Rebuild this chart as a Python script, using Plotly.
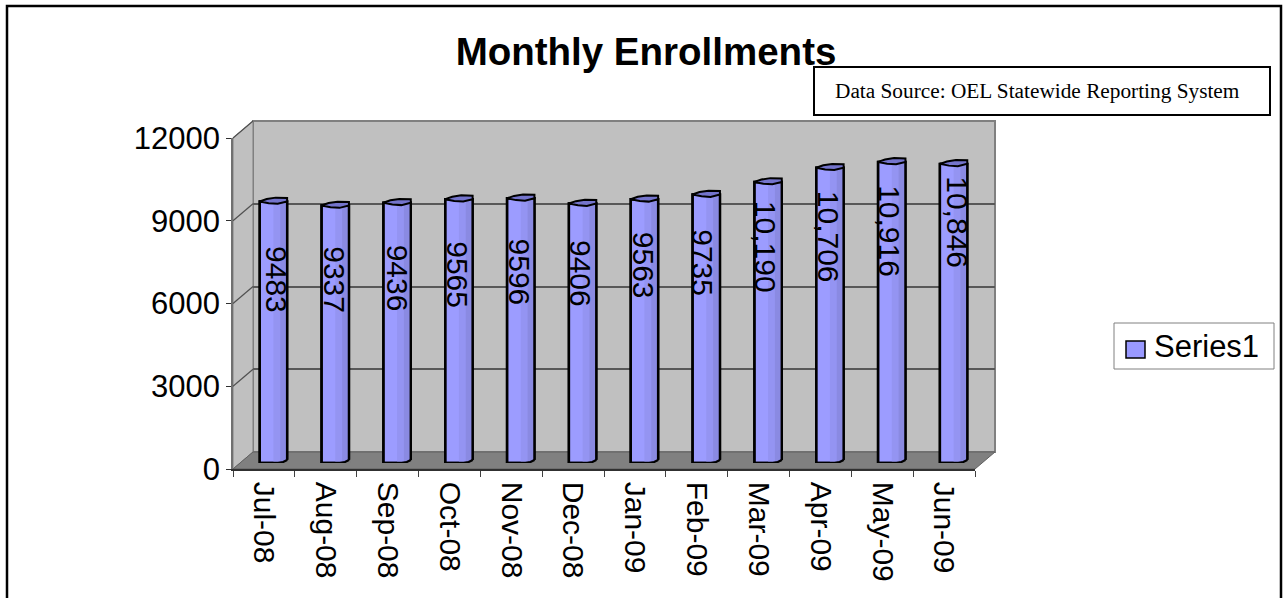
import plotly.graph_objects as go

months = ["Jul-08", "Aug-08", "Sep-08", "Oct-08", "Nov-08", "Dec-08",
          "Jan-09", "Feb-09", "Mar-09", "Apr-09", "May-09", "Jun-09"]
enrollments = [9483, 9337, 9436, 9565, 9596, 9406, 9563, 9735, 10190, 10706, 10916, 10846]
value_labels = ["9483", "9337", "9436", "9565", "9596", "9406", "9563", "9735",
                "10,190", "10,706", "10,916", "10,846"]
y_ticks = [0, 3000, 6000, 9000, 12000]
series_name = "Series1"
chart_title = "Monthly Enrollments"
source_note = "Data Source: OEL Statewide Reporting System"

# hand-placed data label nudges in the source chart (pixels from the bar top)
label_dx = [3, -1, 0, -1, -1, -2, -1, -4, -3, -2, -3, 4]
label_dy = [-78, -74, -75, -76, -74, -70, -66, -68, -65, -69, -69, -58]

W, H = 1287, 599
FONT = "Liberation Sans"
X0, X1, Y0, Y1 = 233, 975, 469, 138          # front plane of the 3-D box
DX, DY = 20, -17                             # depth of the box
BX, BY = 9.5, -6                             # bars stand half way into the depth


def px(x):
    return x / W


def py(y):
    return 1 - y / H


def poly(points):
    return "M" + " L".join(f"{px(x):.5f},{py(y):.5f}" for x, y in points) + " Z"


idx = list(range(len(months)))
ux = (len(months)) / (X1 - X0)               # category units per pixel
uy = y_ticks[-1] / (Y0 - Y1)                 # value units per pixel
HALF = 13.7 * ux

fig = go.Figure()

# back wall axes (x, y) carry the gridlines and sit lowest
fig.add_trace(go.Scatter(x=[0], y=[0], xaxis="x", yaxis="y", mode="markers",
                         marker_opacity=0, showlegend=False, hoverinfo="skip"))

# invisible trace that gives the front axis (x2, y2) its categories
fig.add_trace(go.Bar(x=months, y=[0] * len(months), xaxis="x2", yaxis="y2",
                     showlegend=False, hoverinfo="skip", marker_opacity=0))

# cylinder body on (x3, y3): base, two shaded strips, outline
fig.add_trace(go.Bar(x=idx, y=enrollments, xaxis="x3", yaxis="y3", name=series_name,
                     width=2 * HALF, marker=dict(color="#9C9CFF", line=dict(width=2.4, color="black")),
                     hoverinfo="skip", showlegend=False))
for start, colour in [(0.0, "#9494F2"), (0.5, "#8A8AE2")]:
    fig.add_trace(go.Bar(x=idx, y=enrollments, xaxis="x3", yaxis="y3", showlegend=False,
                         offset=start * HALF, width=(1 - start) * HALF,
                         marker=dict(color=colour, line=dict(width=0)), hoverinfo="skip"))
fig.add_trace(go.Bar(x=idx, y=enrollments, xaxis="x3", yaxis="y3", showlegend=False,
                     width=2 * HALF,
                     marker=dict(color="rgba(0,0,0,0)", line=dict(width=2.4, color="black")),
                     hoverinfo="skip"))

# rounded foot of each cylinder: floor-coloured corner and its curve
mask_x, mask_y, curve_x, curve_y = [], [], [], []
for i in idx:
    r = i + HALF
    mask_x += [r - 9 * ux, r - 3 * ux, r + 2 * ux, r + 2 * ux, r - 9 * ux, None]
    mask_y += [-1 * uy, 1 * uy, 3.5 * uy, -3 * uy, -3 * uy, None]
    curve_x += [r - 9 * ux, r - 4 * ux, r, None]
    curve_y += [0, 1 * uy, 3 * uy, None]
fig.add_trace(go.Scatter(x=mask_x, y=mask_y, xaxis="x3", yaxis="y3", mode="lines", fill="toself",
                         fillcolor="#808080", line=dict(width=0), showlegend=False, hoverinfo="skip",
                         cliponaxis=False))
fig.add_trace(go.Scatter(x=curve_x, y=curve_y, xaxis="x3", yaxis="y3", mode="lines",
                         line=dict(color="black", width=2.2), showlegend=False, hoverinfo="skip",
                         cliponaxis=False))

# elliptical cap of each cylinder
cap_x, cap_y = [], []
for i, v in zip(idx, enrollments):
    l = i - HALF
    cap_x += [l, l + 9 * ux, l + 18 * ux, l + 27.4 * ux, l + 27.4 * ux, l + 16 * ux, l + 7 * ux, l, None]
    cap_y += [v, v - 1.8 * uy, v - 2.4 * uy, v, v + 3.5 * uy, v + 3.8 * uy, v + 2.4 * uy, v, None]
fig.add_trace(go.Scatter(x=cap_x, y=cap_y, xaxis="x3", yaxis="y3", mode="lines", fill="toself",
                         fillcolor="#7474CC", line=dict(color="black", width=2),
                         showlegend=False, hoverinfo="skip"))

annotations = [
    dict(xref="x3", yref="y3", x=i, y=v, text=t, textangle=90, showarrow=False,
         xshift=dx, yshift=dy, xanchor="center", yanchor="middle",
         font=dict(family=FONT, size=30, color="black"))
    for i, v, t, dx, dy in zip(idx, enrollments, value_labels, label_dx, label_dy)
]
annotations.append(dict(
    xref="paper", yref="paper", x=px(1037), y=py(91), text=source_note, showarrow=False,
    xanchor="center", yanchor="middle",
    font=dict(family="Liberation Serif", size=21.3, color="black")))
annotations.append(dict(
    xref="paper", yref="paper", x=px(1152), y=py(346), text=series_name, showarrow=False,
    xanchor="left", yanchor="middle",
    font=dict(family=FONT, size=31, color="black")))

shapes = [
    dict(type="path", xref="paper", yref="paper", layer="below", path=poly(
        [(X0 + DX, Y1 + DY), (X1 + DX, Y1 + DY), (X1 + DX, Y0 + DY), (X0 + DX, Y0 + DY)]),
        fillcolor="#C0C0C0", line=dict(color="#808080", width=2)),
    dict(type="path", xref="paper", yref="paper", layer="below", path=poly(
        [(X0, Y1), (X0 + DX, Y1 + DY), (X0 + DX, Y0 + DY), (X0, Y0)]),
        fillcolor="#C0C0C0", line=dict(color="#808080", width=1)),
    dict(type="path", xref="paper", yref="paper", layer="below", path=poly(
        [(X0 + DX, Y0 + DY), (X1 + DX, Y0 + DY), (X1, Y0), (X0, Y0)]),
        fillcolor="#808080", line=dict(color="#606060", width=1)),
    dict(type="path", xref="paper", yref="paper", layer="above",
         path=f"M{px(7)},{py(598)} L{px(7)},{py(6)} L{px(1281)},{py(6)} L{px(1281)},{py(598)}",
         line=dict(color="black", width=2.5)),
    # source note box
    dict(type="rect", xref="paper", yref="paper", layer="above", x0=px(814), x1=px(1270), y0=py(115), y1=py(67),
         fillcolor="white", line=dict(color="black", width=2)),
    # legend box and swatch
    dict(type="rect", xref="paper", yref="paper", layer="above", x0=px(1114), x1=px(1274), y0=py(369), y1=py(323),
         fillcolor="white", line=dict(color="#808080", width=1)),
    dict(type="rect", xref="paper", yref="paper", layer="above", x0=px(1126), x1=px(1145), y0=py(358), y1=py(341),
         fillcolor="#9999FF", line=dict(color="black", width=1.5)),
]
for t in y_ticks[1:]:
    y = Y0 + (Y1 - Y0) * t / y_ticks[-1]
    shapes.append(dict(type="line", xref="paper", yref="paper", layer="below",
                       x0=px(X0), y0=py(y), x1=px(X0 + DX), y1=py(y + DY),
                       line=dict(color="#505050", width=1.2)))

fig.update_layout(
    template="none",
    width=W, height=H, autosize=False, margin=dict(l=0, r=0, t=0, b=0, pad=0),
    paper_bgcolor="white", plot_bgcolor="rgba(0,0,0,0)", barmode="overlay",
    font=dict(family=FONT, color="black", size=30),
    title=dict(text=f"<b>{chart_title}</b>", xref="paper", yref="paper", x=px(646), y=py(52),
               xanchor="center", yanchor="middle",
               font=dict(family=FONT, size=38.5, color="black")),
    xaxis=dict(domain=[px(X0 + DX), px(X1 + DX)], range=[0, 1], visible=False, anchor="y"),
    yaxis=dict(domain=[py(Y0 + DY), py(Y1 + DY)], range=[0, y_ticks[-1]], tickvals=y_ticks,
               showgrid=True, gridcolor="#585858", gridwidth=1.5, zeroline=False,
               showticklabels=False, ticks="", showline=False, anchor="x", side="right"),
    xaxis2=dict(domain=[px(X0), px(X1)], type="category", categoryorder="array", categoryarray=months,
                tickson="boundaries", ticks="outside", ticklen=6, tickcolor="#404040", tickwidth=1,
                tickangle=90, showgrid=False, showline=True, linecolor="#303030", linewidth=1.5,
                tickfont=dict(family=FONT, size=30), anchor="y2", zeroline=False, automargin=False,
                ticklabelstandoff=5),
    yaxis2=dict(domain=[py(Y0), py(Y1)], range=[0, y_ticks[-1]], tickvals=y_ticks, tickformat="d",
                ticks="outside", ticklen=5, tickcolor="#303030", tickwidth=1, showgrid=False,
                showline=True, linecolor="#707070", linewidth=1.5, zeroline=False, automargin=False,
                tickfont=dict(family=FONT, size=31), anchor="x2"),
    xaxis3=dict(domain=[px(X0 + BX), px(X1 + BX)], range=[-0.5, len(months) - 0.5], visible=False,
                anchor="y3"),
    yaxis3=dict(domain=[py(Y0 + BY), py(Y1 + BY)], range=[0, y_ticks[-1]], visible=False,
                anchor="x3"),
    showlegend=False,
    annotations=annotations, shapes=shapes,
)

fig.write_html("out.html", config=dict(displayModeBar=False),
               post_script="document.body.style.margin='0';")
